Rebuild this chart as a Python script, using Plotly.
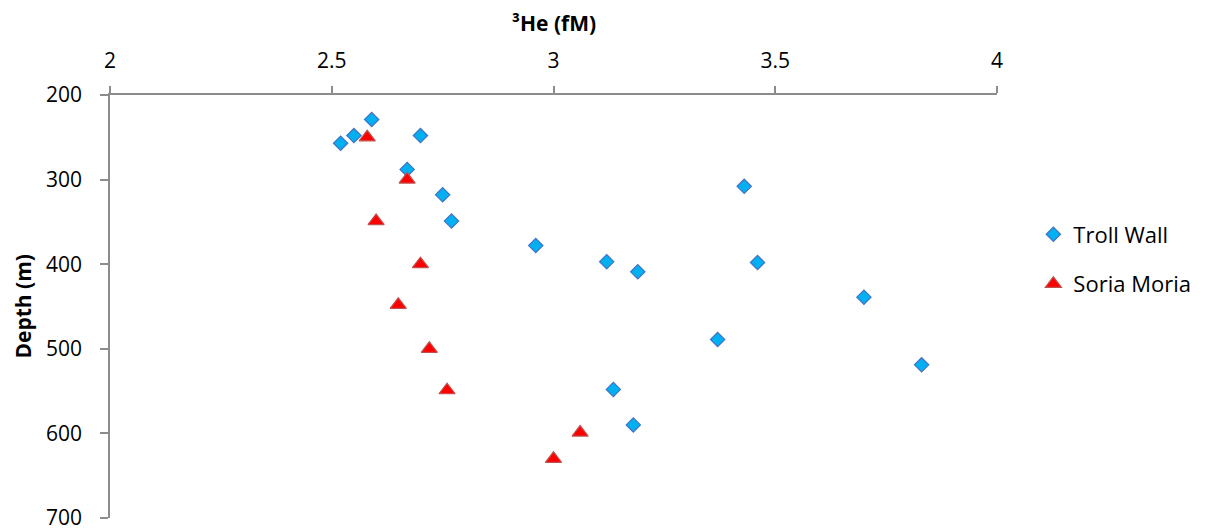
import plotly.graph_objects as go

troll_he3 = [2.59, 2.55, 2.52, 2.70, 2.67, 2.75, 2.77, 2.96, 3.12, 3.19, 3.43, 3.46, 3.70, 3.37, 3.83, 3.135, 3.18]
troll_depth = [229, 248, 257, 248, 288, 318, 349, 378, 397, 409, 308, 398, 439, 489, 519, 548, 590]

soria_he3 = [2.58, 2.67, 2.60, 2.70, 2.65, 2.72, 2.76, 3.06, 3.00]
soria_depth = [250, 300, 349, 400, 448, 500, 549, 599, 630]

x_ticks = [2, 2.5, 3, 3.5, 4]
y_ticks = [200, 300, 400, 500, 600, 700]

FONT = "Open Sans"
axis_col = "#8c8c8c"

fig = go.Figure()
fig.add_trace(go.Scatter(
    x=troll_he3, y=troll_depth, mode="markers", name="Troll Wall",
    legendgroup="a",
    marker=dict(symbol="diamond", size=11, color="#00B0F0",
                line=dict(color="#4472C4", width=1.2)),
))
fig.add_trace(go.Scatter(
    x=soria_he3, y=soria_depth, mode="markers", name="Soria Moria",
    legendgroup="b",
    marker=dict(symbol="triangle-up", size=14, color="#FF0000",
                line=dict(color="#C0504D", width=1.2)),
))

fig.update_layout(
    width=1205, height=530,
    margin=dict(l=110, r=208, t=95, b=12, autoexpand=False),
    paper_bgcolor="white", plot_bgcolor="white",
    font=dict(family=FONT, size=21, color="#000000"),
    showlegend=True,
    legend=dict(x=1.041, y=0.72, xanchor="left", yanchor="top",
                tracegroupgap=18, font=dict(size=22, family=FONT),
                itemwidth=30),
    xaxis=dict(
        side="top", range=[2, 4], tickvals=x_ticks,
        ticktext=[str(v) for v in x_ticks],
        showline=True, linecolor=axis_col, linewidth=1.5,
        ticks="outside", ticklen=7, tickcolor=axis_col, tickwidth=1.5,
        showgrid=False, zeroline=False, ticklabelstandoff=10,
        ticklabeloverflow="allow", automargin=False,
    ),
    yaxis=dict(
        range=[700, 200], tickvals=y_ticks,
        showline=True, linecolor=axis_col, linewidth=1.5,
        ticks="outside", ticklen=8, tickcolor=axis_col, tickwidth=1.5,
        showgrid=False, zeroline=False, ticklabelstandoff=14,
        ticklabeloverflow="allow", automargin=False,
    ),
    annotations=[
        dict(text="³He (fM)", xref="paper", yref="paper", x=0.5, y=1,
             xanchor="center", yanchor="middle", yshift=72, showarrow=False,
             font=dict(size=21, family=FONT, weight="bold")),
        dict(text="Depth (m)", xref="paper", yref="paper", x=0, y=0.5,
             xanchor="center", yanchor="middle", xshift=-88, textangle=-90,
             showarrow=False, font=dict(size=21, family=FONT, weight="bold")),
    ],
)

fig.write_html(
    "out.html",
    config={"displayModeBar": False},
    post_script=(
        "document.body.style.margin='0';"
        "document.body.style.overflow='hidden';"
        "document.documentElement.style.overflow='hidden';"
    ),
)
